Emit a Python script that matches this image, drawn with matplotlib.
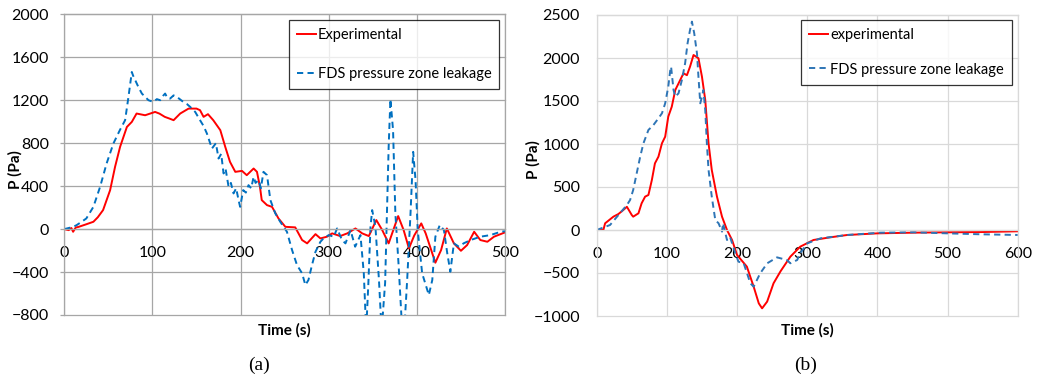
import matplotlib
matplotlib.use("Agg")
import matplotlib.pyplot as plt

plt.rcParams["font.family"] = ["Lato", "DejaVu Sans"]

# (a) pressure history, first test
a_exp_t = [0, 5, 8, 10, 13, 16, 25, 33, 38, 44,
           52, 57.6, 63.3, 71, 76.6, 82, 91.7, 103, 108, 114,
           119, 124, 131.5, 141, 150, 154, 158, 163, 169, 177,
           182.6, 188, 194, 201.6, 207, 214.8, 218.6, 222, 224, 230,
           235.7, 243, 250.8, 262, 269.8, 275.5, 285, 290.6, 298, 303.9,
           313, 321, 330.3, 338, 345.5, 354, 360.7, 368, 378.8, 385,
           391, 397, 405, 410, 421, 427.5, 434, 442, 450, 457,
           465, 472, 480, 487.5, 499]
a_exp_p = [0, -10, 10, -25, 15, 20, 45, 68, 110, 177,
           363, 580, 766, 951, 998, 1076, 1060, 1091, 1075, 1045,
           1030, 1014, 1076, 1122, 1122, 1107, 1045, 1070, 1014, 921,
           766, 626, 533, 542, 502, 564, 533, 393, 270, 223,
           207, 99, 21, 16, -102, -133, -47, -87, -71, -40,
           -65, -40, 6, -40, -65, 84, -9, -133, 121, -9,
           -180, -60, 53, -40, -313, -195, 6, -133, -202, -149,
           -25, -102, -118, -71, -34]

a_fds_t = [0, 5, 10, 14, 20, 25, 33, 40.6, 48, 55.7,
           63, 69, 72.8, 76.6, 78, 84, 88, 95.5, 101, 105,
           108.8, 112, 114.4, 117, 120, 124, 127.7, 131, 135, 139,
           142.8, 148.5, 154, 158, 161.8, 167.5, 172, 175, 178, 180.7,
           183, 186.4, 189, 192, 195, 197.7, 199.5, 203, 206, 209,
           212, 214.8, 217, 220.5, 223, 226, 230, 233.8, 239.4, 245,
           252.6, 258.4, 264, 269.8, 273.5, 277, 281, 285, 290.6, 294,
           300, 305.7, 309.5, 315, 319, 324.7, 330, 336, 339.8, 342.5,
           345, 347.4, 349.3, 353, 357, 360, 364, 368, 370, 373,
           375.6, 379.4, 383.4, 386, 389, 392.8, 395.8, 398.5, 401, 406,
           413.6, 417.5, 421, 426, 430.7, 434.5, 438, 442, 447.7, 453,
           461, 472, 483.5, 495, 500]
a_fds_p = [0, 10, 20, 37, 70, 99, 207, 393, 611, 797,
           921, 1014, 1231, 1463, 1430, 1324, 1262, 1200, 1184, 1210,
           1200, 1240, 1262, 1220, 1215, 1245, 1231, 1210, 1184, 1165,
           1138, 1091, 1014, 960, 890, 750, 800, 657, 700, 518,
           560, 393, 430, 332, 380, 270, 207, 363, 340, 409,
           380, 487, 430, 456, 380, 533, 502, 270, 146, 68,
           -25, -195, -335, -412, -521, -474, -335, -211, -118, -87,
           -56, -71, 6, -102, -133, -9, -164, -56, -412, -950,
           -500, 21, 177, 21, -474, -950, -500, 766, 1210, 921,
           146, -350, -950, -900, -474, 146, 719, 456, -9, -412,
           -614, -474, -71, 37, -9, -226, -397, -133, -164, -133,
           -102, -71, -56, -25, -20]

# (b) pressure history, second test
b_exp_t = [0, 9.5, 12, 23.8, 31, 38, 43, 50, 52, 59.5,
           64, 69, 73.7, 78.6, 83, 88, 93, 97.6, 102, 107,
           112, 119, 123.7, 128.6, 133, 138, 145, 150, 154.7, 159.4,
           164, 171.4, 178.6, 185.7, 192.9, 200, 214, 223.7, 231, 235.7,
           242.9, 252, 262, 276, 290, 309, 333, 357, 400, 452,
           500, 548, 600]
b_exp_p = [0, 0, 78, 155, 186, 233, 270, 174, 155, 194,
           310, 388, 407, 581, 775, 853, 1008, 1085, 1318, 1434,
           1628, 1744, 1822, 1800, 1899, 2035, 1997, 1783, 1512, 1008,
           698, 388, 155, 0, -116, -290, -426, -659, -853, -911,
           -833, -620, -480, -310, -194, -116, -85, -58, -39, -31,
           -27, -24, -15]

b_fds_t = [0, 19, 33, 43, 47.6, 52, 57, 62, 66.6, 73.7,
           80.9, 88, 93, 97.6, 102, 104.7, 106, 109.5, 112, 116.6,
           121.4, 126, 129.5, 133, 135.7, 139, 142.9, 145, 147.6, 150,
           152, 154.7, 157, 159.4, 164, 169, 173.7, 178.6, 180, 185.7,
           190, 197.6, 202, 209.5, 219, 223.7, 233, 243, 257, 271,
           276, 285.7, 290, 300, 319, 357, 404.7, 452, 500, 547.6,
           600]
b_fds_p = [0, 58, 194, 290, 349, 465, 659, 853, 1008, 1163,
           1221, 1299, 1357, 1473, 1666, 1850, 1899, 1628, 1550, 1589,
           1744, 1938, 2171, 2326, 2423, 2287, 2055, 1783, 1473, 1550,
           1628, 1395, 1008, 698, 388, 116, 78, -19, 78, -116,
           -80, -271, -368, -387, -620, -659, -504, -387, -318, -349,
           -387, -349, -271, -155, -97, -58, -31, -27, -39, -50,
           -58]

W, H = 1038, 381
fig = plt.figure(figsize=(W / 100, H / 100), dpi=100)
ax1 = fig.add_axes([64.3 / W, 1 - 315 / H, 440.7 / W, 300.7 / H])
ax2 = fig.add_axes([596.7 / W, 1 - 316 / H, 421 / W, 301 / H])

TICK_FS = 11.5
LEG_FS = 10.5
LAB_FS = 11


def style_axes(ax, grid_color, ytick_len, ypad):
    ax.grid(True, color=grid_color, linewidth=0.9)
    ax.set_axisbelow(True)
    for gl in ax.get_ygridlines() + ax.get_xgridlines():
        gl.set_clip_on(False)
    for side in ("top", "right", "left"):
        ax.spines[side].set_color(grid_color)
        ax.spines[side].set_linewidth(0.9)
    # x axis crosses at P = 0
    ax.spines["bottom"].set_position(("data", 0))
    ax.spines["bottom"].set_color(grid_color)
    ax.spines["bottom"].set_linewidth(0.9)
    ax.tick_params(axis="x", length=0, pad=12, labelsize=TICK_FS)
    ax.tick_params(axis="y", length=ytick_len, width=0.9, color=grid_color,
                   pad=ypad, labelsize=TICK_FS)
    ax.set_xlabel("Time (s)", fontsize=LAB_FS, fontweight="bold")
    ax.set_ylabel("P (Pa)", fontsize=LAB_FS, fontweight="bold")
    ax.xaxis.label.set_va("center")
    ax.yaxis.label.set_va("center")


def add_legend(ax, anchor, spacing):
    leg = ax.legend(loc="upper right", bbox_to_anchor=anchor,
                    borderaxespad=0, fontsize=LEG_FS, frameon=True,
                    fancybox=False, edgecolor="black", borderpad=0.55,
                    labelspacing=spacing, handlelength=1.3,
                    handletextpad=0.1)
    leg.get_frame().set_linewidth(0.9)
    return leg


# left panel
ax1.plot(a_exp_t, a_exp_p, color="#ff0000", linewidth=1.4, label="Experimental")
ax1.plot(a_fds_t, a_fds_p, color="#0070c0", linewidth=1.4, dashes=(3.2, 2.2),
         label="FDS pressure zone leakage")
ax1.set_xlim(0, 500)
ax1.set_ylim(-800, 2000)
ax1.set_xticks(range(0, 501, 100))
ax1.set_yticks(range(-800, 2001, 400))
style_axes(ax1, "#a6a6a6", 3, 8)
ax1.xaxis.set_label_coords(0.5, 1 - (330 - 14.3) / 300.7)
ax1.yaxis.set_label_coords((15 - 64.3) / 440.7, 1 - (170 - 14.3) / 300.7)
add_legend(ax1, (0.987, 0.981), 1.7)

# right panel
ax2.plot(b_exp_t, b_exp_p, color="#ff0000", linewidth=1.4, label="experimental")
ax2.plot(b_fds_t, b_fds_p, color="#2e75b6", linewidth=1.4, dashes=(3.2, 2.2),
         label="FDS pressure zone leakage")
ax2.set_xlim(0, 600)
ax2.set_ylim(-1000, 2500)
ax2.set_xticks(range(0, 601, 100))
ax2.set_yticks(range(-1000, 2501, 500))
style_axes(ax2, "#d9d9d9", 0, 12)
ax2.xaxis.set_label_coords(0.5, 1 - (330 - 15) / 301)
ax2.yaxis.set_label_coords((533 - 596.7) / 421, 1 - (160 - 15) / 301)
add_legend(ax2, (0.9857, 0.983), 1.4)

fig.text(259 / W, 1 - 365 / H, "(a)", ha="center", va="center",
         fontsize=14, family="Liberation Serif")
fig.text(806 / W, 1 - 365 / H, "(b)", ha="center", va="center",
         fontsize=14, family="Liberation Serif")

fig.savefig("out.png", dpi=100)
